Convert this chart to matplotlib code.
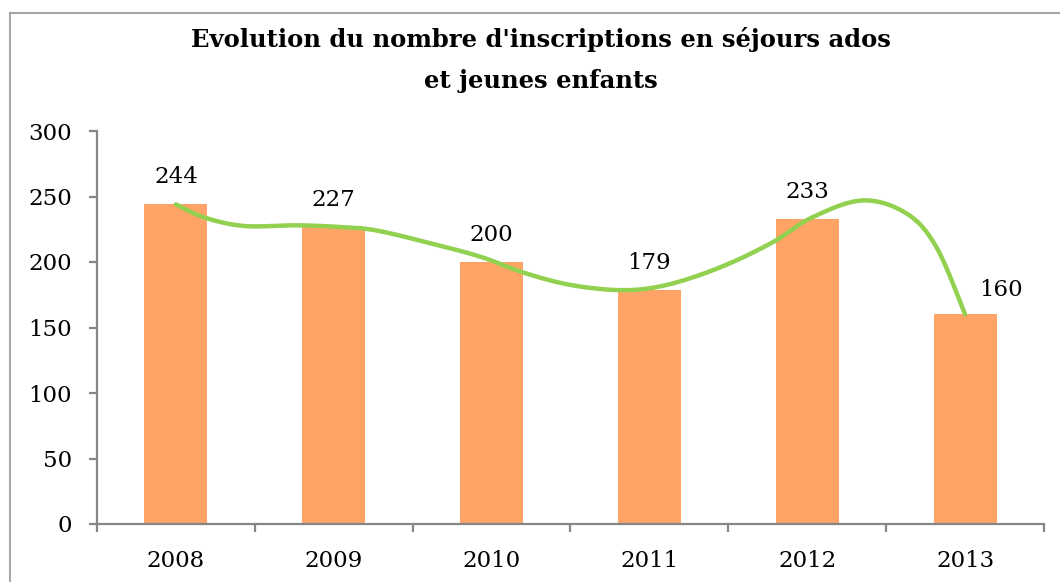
import numpy as np
import matplotlib
matplotlib.use("Agg")
import matplotlib.pyplot as plt
from matplotlib.lines import Line2D

# ---- data ----
years = ["2008", "2009", "2010", "2011", "2012", "2013"]
inscriptions = [244, 227, 200, 179, 233, 160]
# hand-drawn smooth trend curve (x in category units)
trend_x = [0, 0.18, 0.43, 0.75, 1.0, 1.25, 1.59, 1.93, 2.2, 2.5, 2.83, 3.11, 3.45, 3.78, 4.03, 4.35, 4.63, 4.82, 5.0]
trend_y = [244, 234, 227.5, 228, 227, 224.5, 215, 204, 192, 182.5, 178.5, 182.5, 196, 215, 234, 247, 237, 211, 160]
yticks = [0, 50, 100, 150, 200, 250, 300]
title = "Evolution du nombre d'inscriptions en séjours ados\net jeunes enfants"

BAR = "#FFA366"
GREEN = "#92D050"
AXIS = "#868686"
FONT = "DejaVu Serif"

W, H = 1060, 582
fig = plt.figure(figsize=(W / 100, H / 100), dpi=100)
ax = fig.add_axes([97 / W, (H - 524) / H, (1044 - 97) / W, (524 - 131) / H])

x = np.arange(len(years))
ax.bar(x, inscriptions, width=0.4, color=BAR, zorder=2)


def catmull_rom(xs, ys, n=30):
    xs = np.asarray(xs, float)
    ys = np.asarray(ys, float)
    P = np.column_stack([xs, ys])
    P = np.vstack([P[0], P, P[-1]])
    out = []
    for i in range(1, len(P) - 2):
        p0, p1, p2, p3 = P[i - 1], P[i], P[i + 1], P[i + 2]
        t = np.linspace(0, 1, n, endpoint=False)[:, None]
        seg = 0.5 * ((2 * p1) + (-p0 + p2) * t + (2 * p0 - 5 * p1 + 4 * p2 - p3) * t ** 2
                     + (-p0 + 3 * p1 - 3 * p2 + p3) * t ** 3)
        out.append(seg)
    out.append(P[-2][None, :])
    out = np.vstack(out)
    return out[:, 0], out[:, 1]


cx, cy = catmull_rom(trend_x, trend_y)
ax.plot(cx, cy, color=GREEN, lw=3.2, solid_capstyle="round", zorder=3)

# data labels
offsets = [(0, 27), (0, 27), (0, 27), (0, 27), (0, 27), (36, 24)]
for xi, v, (dx, dy) in zip(x, inscriptions, offsets):
    ax.annotate(str(v), (xi, v), xytext=(dx, dy), textcoords="offset pixels",
                ha="center", va="center", fontsize=16.5, family=FONT, color="black", zorder=4)

ax.set_xlim(-0.5, len(years) - 0.5)
ax.set_ylim(0, 300)
ax.set_yticks(yticks)
ax.set_yticklabels([str(t) for t in yticks], family=FONT, fontsize=16.5)
ax.set_xticks(x)
ax.set_xticklabels(years, family=FONT, fontsize=16.5)
ax.set_xticks(np.arange(-0.5, len(years), 1.0), minor=True)

for s in ["top", "right"]:
    ax.spines[s].set_visible(False)
for s in ["left", "bottom"]:
    ax.spines[s].set_color(AXIS)
    ax.spines[s].set_linewidth(1.6)

ax.tick_params(axis="y", length=6, width=1.6, color=AXIS, pad=12, direction="out")
ax.tick_params(axis="x", which="major", length=0, pad=19)
ax.tick_params(axis="x", which="minor", length=6, width=1.6, color=AXIS, direction="out")

fig.text(541 / W, 1 - 60 / H, title, ha="center", va="center", fontsize=17.5,
         fontweight="bold", family=FONT, linespacing=1.85)

# outer chart frame
fig.add_artist(Line2D([10 / W, 1.0], [1 - 13 / H, 1 - 13 / H], transform=fig.transFigure,
                      color="#A6A6A6", lw=1.5))
fig.add_artist(Line2D([10 / W, 10 / W], [0, 1 - 13 / H], transform=fig.transFigure,
                      color="#A6A6A6", lw=1.5))

fig.savefig("out.png", dpi=100)
